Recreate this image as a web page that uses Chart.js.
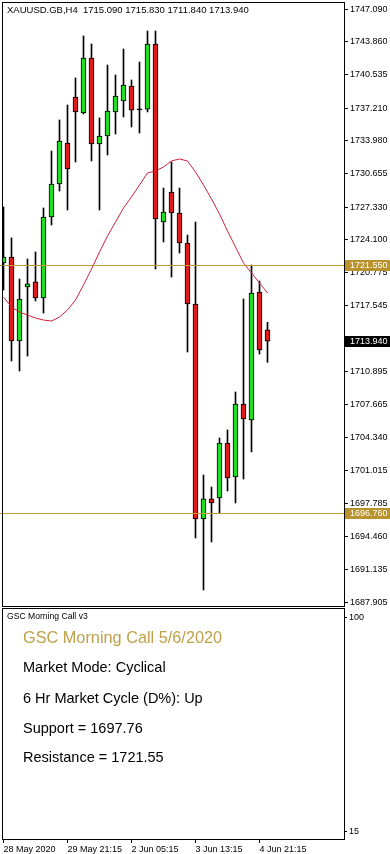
<!DOCTYPE html>
<html>
<head>
<meta charset="utf-8">
<script src="https://cdn.jsdelivr.net/npm/chart.js@4.4.1/dist/chart.umd.min.js"></script>
<style>
  body { margin:0; background:#fff; width:390px; height:854px; overflow:hidden; position:relative;
         font-family:'Liberation Sans', Arial, sans-serif; color:#000; }
  canvas { position:absolute; left:0; }
  #cvPreco  { top:0; }
  #cvPainel { top:607px; }
  .txt { position:absolute; white-space:pre; line-height:1; }
  .grande { font-size:14.5px; left:23px; }
</style>
</head>
<body>
<canvas id="cvPreco" width="390" height="607"></canvas>
<canvas id="cvPainel" width="390" height="247"></canvas>

<div class="txt" id="cabecalho" style="left:7px;top:5px;font-size:9.5px"></div>
<div class="txt" style="left:7px;top:612px;font-size:8.6px">GSC Morning Call v3</div>
<div class="txt" style="left:23px;top:629px;font-size:16.3px;color:#BF9F48">GSC Morning Call 5/6/2020</div>
<div class="txt grande" style="top:660px">Market Mode: Cyclical</div>
<div class="txt grande" style="top:691px">6 Hr Market Cycle (D%): Up</div>
<div class="txt grande" style="top:721px" id="txtSuporte"></div>
<div class="txt grande" style="top:750px" id="txtResist"></div>

<script>
// ===== DADOS =====
const opens  = [1721.75, 1722.35, 1713.97, 1719.36, 1719.86, 1718.26, 1726.34, 1729.63, 1733.72, 1738.31,
                1736.72, 1742.20, 1733.62, 1734.42, 1736.82, 1737.91, 1739.41, 1737.03, 1737.11, 1743.60,
                1725.84, 1728.83, 1726.74, 1723.75, 1717.66, 1696.21, 1698.21, 1698.31, 1703.79, 1700.40,
                1707.68, 1706.09, 1718.86, 1715.09];
const highs  = [1727.34, 1724.25, 1720.15, 1722.15, 1722.85, 1727.24, 1732.92, 1736.02, 1737.51, 1740.21,
                1744.40, 1743.60, 1736.22, 1741.50, 1740.51, 1743.10, 1740.01, 1741.80, 1744.90, 1744.90,
                1729.23, 1731.83, 1729.23, 1724.54, 1725.84, 1700.60, 1699.40, 1704.29, 1705.09, 1708.88,
                1718.16, 1721.55, 1719.95, 1715.83];
const lows   = [1719.06, 1711.97, 1710.98, 1712.47, 1717.96, 1716.76, 1725.54, 1728.93, 1727.04, 1731.83,
                1736.62, 1731.93, 1727.04, 1732.53, 1734.62, 1736.32, 1735.32, 1734.72, 1736.82, 1721.15,
                1723.85, 1720.35, 1722.75, 1712.87, 1694.32, 1689.13, 1693.92, 1696.81, 1699.01, 1697.81,
                1700.20, 1702.90, 1712.67, 1711.84];
const closes = [1722.35, 1713.97, 1718.16, 1719.66, 1718.26, 1726.34, 1729.63, 1733.92, 1731.13, 1736.82,
                1742.20, 1733.62, 1734.42, 1736.91, 1738.41, 1739.51, 1737.01, 1737.13, 1743.60, 1726.14,
                1726.84, 1726.74, 1723.75, 1717.66, 1696.21, 1698.21, 1697.81, 1703.79, 1700.30, 1707.68,
                1706.19, 1718.76, 1713.07, 1713.94];

// media movel (linha vermelha)
const maValues = [1718.36, 1717.36, 1716.86, 1716.56, 1716.26, 1716.06, 1715.96, 1716.36, 1717.06, 1718.06,
                  1719.56, 1721.15, 1722.85, 1724.44, 1725.84, 1727.24, 1728.34, 1729.53, 1730.73, 1730.93,
                  1731.33, 1731.93, 1732.13, 1731.93, 1730.83, 1729.53, 1728.14, 1726.64, 1724.94, 1723.35,
                  1721.75, 1720.75, 1719.76, 1718.76];

const yTicks = [1747.090, 1743.860, 1740.535, 1737.210, 1733.980, 1730.655, 1727.330, 1724.100, 1720.775,
                1717.545, 1710.895, 1707.665, 1704.340, 1701.015, 1697.785, 1694.460, 1691.135, 1687.905];

const timeTicks   = ['28 May 2020', '29 May 21:15', '2 Jun 05:15', '3 Jun 13:15', '4 Jun 21:15'];
const timeTickIdx = [0, 8, 16, 24, 32];

const panelTicks = [100, 15];

const resistance  = 1721.55;
const support     = 1696.76;
const supportText = 1697.76;   // valor que o painel escreve

// ===== CONFIG =====
const FONTE    = "'Liberation Sans', Arial, sans-serif";
const GOLD     = '#C49C34';
const BOX_GOLD = '#B8922C';
const VERDE    = '#22DD22';
const VERM     = '#E01B1B';
const MA_COR   = '#D0213A';

const xMin = -0.1875, xMax = 42.5625;
const yMin = 1687.53, yMax = 1747.79;

const ultimo = opens.length - 1;
const fmt3 = v => v.toFixed(3);

document.getElementById('cabecalho').textContent =
  `XAUUSD.GB,H4  ${fmt3(opens[ultimo])} ${fmt3(highs[ultimo])} ${fmt3(lows[ultimo])} ${fmt3(closes[ultimo])}`;
document.getElementById('txtSuporte').textContent = `Support = ${supportText.toFixed(2)}`;
document.getElementById('txtResist').textContent  = `Resistance = ${resistance.toFixed(2)}`;

const cores = opens.map((o, i) => {
  if (Math.abs(closes[i] - o) < 0.15) return '#000';
  return closes[i] > o ? VERDE : VERM;
});

// sem folga extra de rotulos: a area do grafico fica onde o layout manda
const semFolga = s => { s.paddingTop = 0; s.paddingBottom = 0; s.paddingLeft = 0; s.paddingRight = 0; };


// ===== PLUGINS =====
const moldura = {
  id: 'moldura',
  afterDraw(chart) {
    const { ctx, chartArea: a } = chart;
    ctx.save();
    ctx.strokeStyle = '#000';
    ctx.lineWidth = 1;
    ctx.strokeRect(a.left + 0.5, a.top + 0.5, a.right - a.left, a.bottom - a.top);
    ctx.restore();
  }
};

const niveis = {
  id: 'niveis',
  afterDatasetsDraw(chart) {
    const { ctx, chartArea: a, scales: { y } } = chart;
    ctx.save();
    ctx.strokeStyle = GOLD;
    ctx.lineWidth = 1;
    [resistance, support].forEach(v => {
      const py = Math.round(y.getPixelForValue(v)) + 0.5;
      ctx.beginPath();
      ctx.moveTo(0, py);
      ctx.lineTo(a.right, py);
      ctx.stroke();
    });
    ctx.restore();
  },
  afterDraw(chart) {
    const { ctx, chartArea: a, scales: { y } } = chart;
    const caixas = [
      { v: resistance,     bg: BOX_GOLD },
      { v: closes[ultimo], bg: '#000' },
      { v: support,        bg: BOX_GOLD }
    ];
    ctx.save();
    ctx.font = `9px ${FONTE}`;
    ctx.textBaseline = 'middle';
    caixas.forEach(c => {
      const py = Math.round(y.getPixelForValue(c.v));
      ctx.fillStyle = c.bg;
      ctx.fillRect(a.right + 1, py - 5, 390 - a.right, 11);
      ctx.fillStyle = '#fff';
      ctx.fillText(fmt3(c.v), a.right + 6, py + 0.5);
    });
    ctx.restore();
  }
};


// ===== GRAFICO PRECO =====
new Chart(document.getElementById('cvPreco'), {
  type: 'bar',
  data: {
    datasets: [
      {
        type: 'line',
        label: 'MA',
        data: maValues.map((v, i) => ({ x: i, y: v })),
        borderColor: MA_COR,
        borderWidth: 1,
        pointRadius: 0,
        tension: 0,
        order: 0
      },
      {
        label: 'corpo',
        data: opens.map((o, i) => ({ x: i, y: [o, closes[i]] })),
        backgroundColor: cores,
        borderColor: '#000',
        borderWidth: 1,
        borderSkipped: false,
        barThickness: 5,
        grouped: false,
        order: 1
      },
      {
        label: 'pavio',
        data: lows.map((l, i) => ({ x: i, y: [l, highs[i]] })),
        backgroundColor: '#000',
        borderWidth: 0,
        barThickness: 1,
        grouped: false,
        order: 2
      }
    ]
  },
  options: {
    responsive: false,
    animation: false,
    layout: { padding: { left: 2, top: 2, right: 0, bottom: 1 } },
    plugins: { legend: { display: false }, tooltip: { enabled: false } },
    scales: {
      x: { type: 'linear', display: false, min: xMin, max: xMax, offset: false },
      y: {
        position: 'right',
        min: yMin,
        max: yMax,
        afterFit: s => { s.width = 46; semFolga(s); },
        afterBuildTicks: s => { s.ticks = yTicks.map(v => ({ value: v })); },
        ticks: { callback: v => fmt3(v), color: '#000', font: { family: FONTE, size: 9 }, padding: 2, autoSkip: false },
        grid: { drawOnChartArea: false, color: '#000', tickLength: 4 },
        border: { color: '#000' }
      }
    }
  },
  plugins: [niveis, moldura]
});


// ===== PAINEL INDICADOR =====
new Chart(document.getElementById('cvPainel'), {
  type: 'line',
  data: { datasets: [] },
  options: {
    responsive: false,
    animation: false,
    layout: { padding: { left: 2, top: 1, right: 0, bottom: 0 } },
    plugins: { legend: { display: false }, tooltip: { enabled: false } },
    scales: {
      x: {
        type: 'linear',
        min: xMin,
        max: xMax,
        afterFit: s => { s.height = 15; semFolga(s); },
        afterBuildTicks: s => { s.ticks = timeTickIdx.map(v => ({ value: v })); },
        ticks: {
          autoSkip: false, maxRotation: 0, align: 'start', padding: 1,
          callback: v => timeTicks[timeTickIdx.indexOf(v)],
          color: '#000', font: { family: FONTE, size: 9 }
        },
        grid: { drawOnChartArea: false, color: '#000', tickLength: 4 },
        border: { color: '#000' }
      },
      y: {
        position: 'right',
        min: 12.2,
        max: 103.8,
        afterFit: s => { s.width = 46; semFolga(s); },
        afterBuildTicks: s => { s.ticks = panelTicks.map(v => ({ value: v })); },
        ticks: { color: '#000', font: { family: FONTE, size: 9 }, padding: 2 },
        grid: { drawOnChartArea: false, color: '#000', tickLength: 3 },
        border: { color: '#000' }
      }
    }
  },
  plugins: [moldura]
});
</script>
</body>
</html>
